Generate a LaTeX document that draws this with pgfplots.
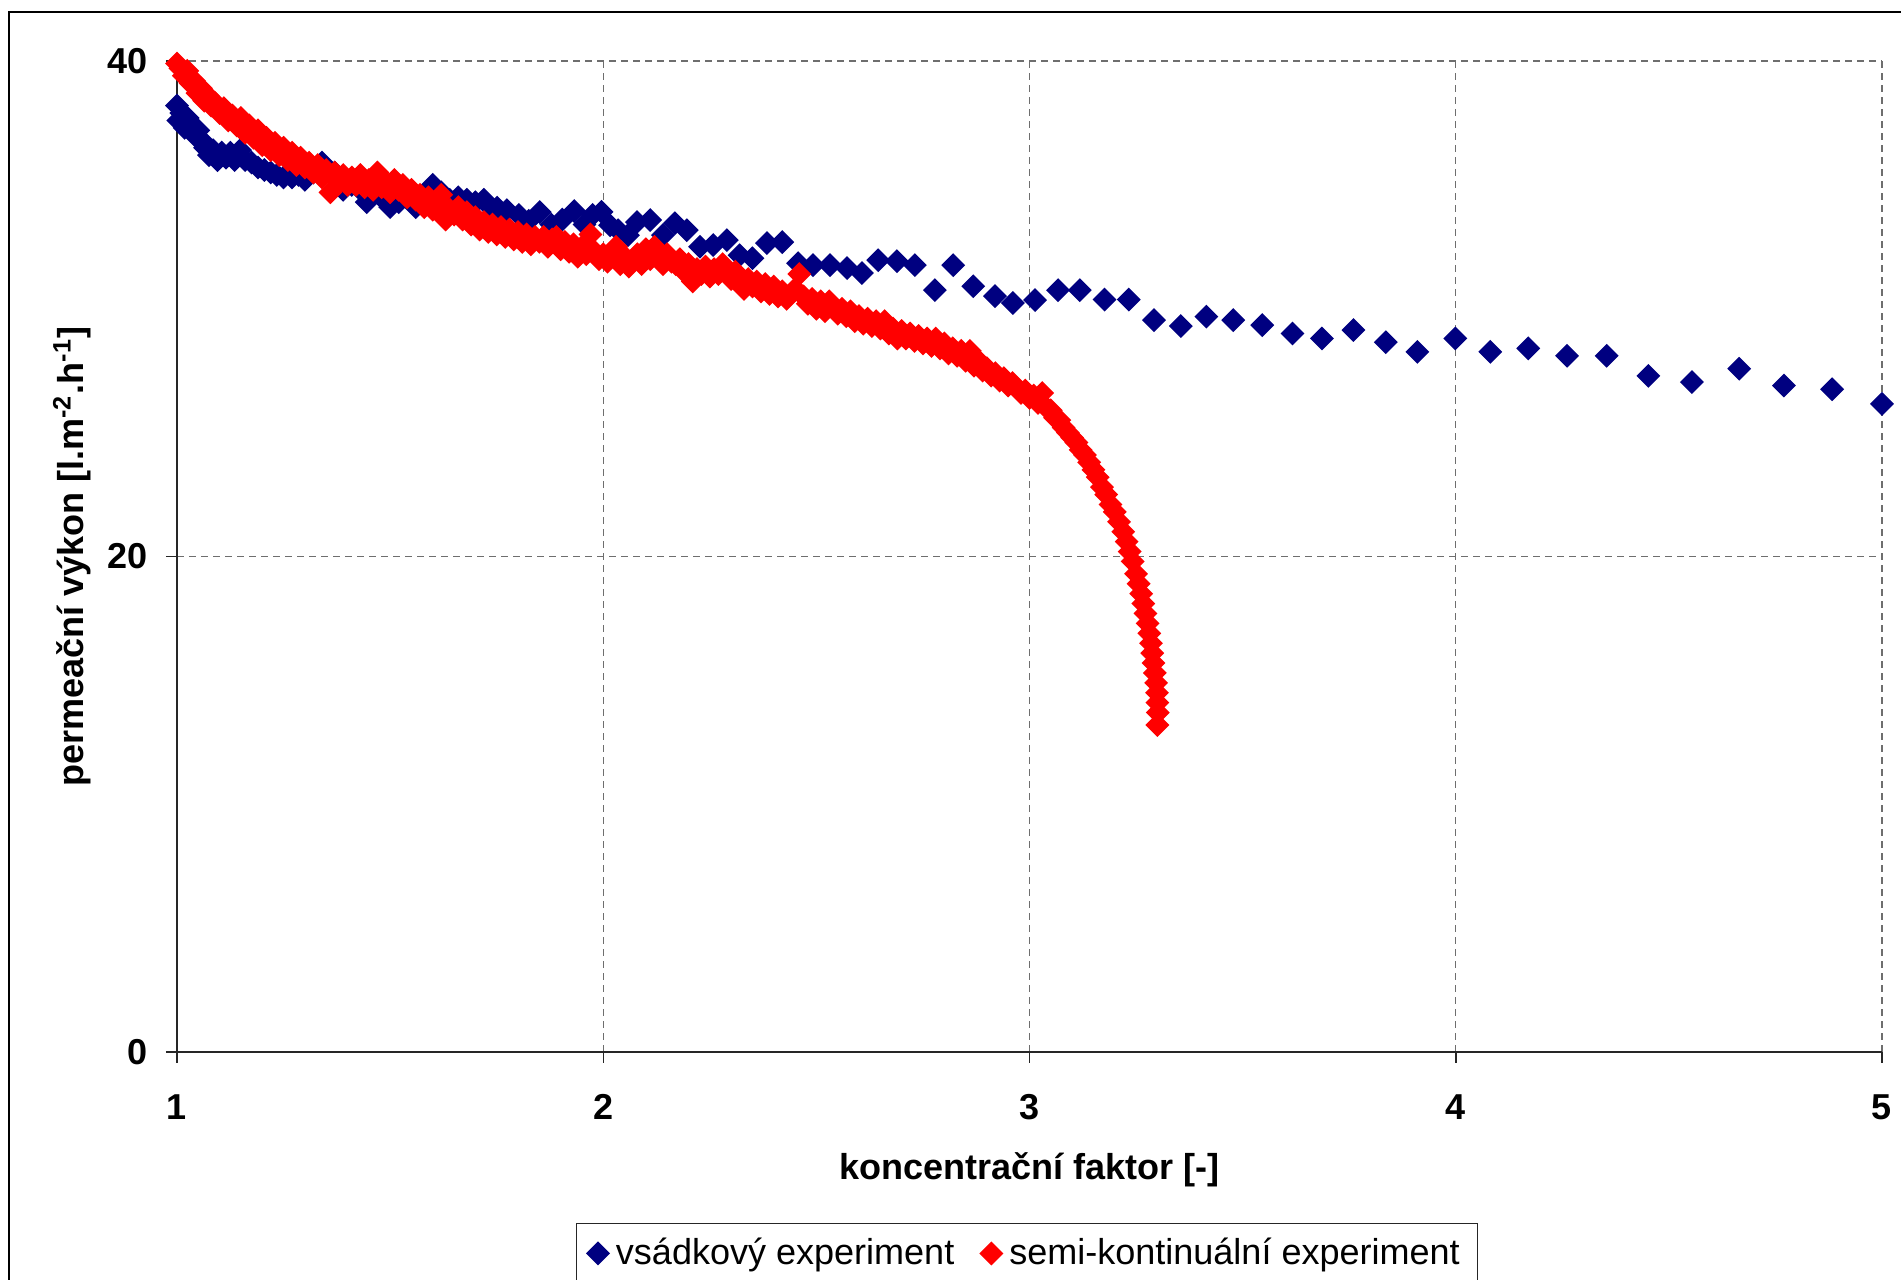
\documentclass[border=0pt]{standalone}
\usepackage{fontspec}
\setmainfont{Liberation Sans}
\usepackage{pgfplots}
\pgfplotsset{compat=1.18}
\definecolor{navyblue}{RGB}{0,0,128}
\definecolor{purered}{RGB}{255,0,0}
\definecolor{gridgray}{RGB}{110,110,110}
\newcommand{\chartfont}{\fontsize{10.25pt}{12pt}\selectfont}
\begin{document}
\begin{tikzpicture}
\useasboundingbox (0cm,0cm) rectangle (19.01cm,-12.80cm);
\begin{scope}
\clip (0cm,0cm) rectangle (19.01cm,-12.80cm);
\draw[line width=0.02cm, black] (0.09cm,-0.12cm) rectangle (19.6cm,-13.4cm);
\end{scope}
\begin{axis}[
  at={(1.77cm,-10.52cm)}, anchor=south west,
  scale only axis, width=17.05cm, height=9.91cm,
  xmin=1, xmax=5, ymin=0, ymax=40,
  xtick={1,2,3,4,5}, ytick={0,20,40},
  axis lines=left,
  axis line style={-, black!85, line width=0.015cm},
  tick align=outside,
  major tick length=0.11cm,
  tick style={black!85, line width=0.015cm},
  grid=major,
  major grid style={gridgray, line width=0.012cm, dash pattern=on 0.07cm off 0.05cm},
  clip=false,
  /pgf/number format/assume math mode=true,
  ticklabel style={font=\chartfont\bfseries},
  xticklabel style={anchor=center, yshift=-0.44cm},
  yticklabel style={anchor=east, xshift=-0.06cm},
  xlabel={koncentrační faktor [-]},
  ylabel={permeační výkon [l.m\textsuperscript{-2}.h\textsuperscript{-1}]},
  every axis x label/.style={at={(axis description cs:0.5,0)}, anchor=center, yshift=-1.18cm, font=\chartfont\bfseries},
  every axis y label/.style={at={(axis description cs:0,0.5)}, anchor=center, rotate=90, yshift=1.05cm, font=\chartfont\bfseries},
  legend columns=2,
  legend style={at={(axis description cs:0.4985,-0.2033)}, anchor=center,
    draw=black!85, line width=0.015cm, font=\chartfont,
    /tikz/every even column/.append style={column sep=0.19cm}},
  legend image code/.code={\draw[mark repeat=2,mark phase=2,#1] plot coordinates {(0cm,0cm)(0.14cm,0cm)(0.34cm,0cm)};},
]
\addplot[only marks, mark=square*, mark size=2.2pt, mark options={rotate=45, fill=navyblue, draw=navyblue}] coordinates {
(1.000,38.2) (1.003,37.6) (1.010,37.9) (1.018,37.3) (1.025,37.7) (1.033,37.4)
(1.042,37.0) (1.050,37.2) (1.058,36.8) (1.066,36.5) (1.075,36.2) (1.085,36.4)
(1.095,36.0) (1.105,36.3) (1.115,36.1) (1.125,36.3) (1.135,36.0) (1.148,36.4)
(1.160,36.0) (1.175,35.9) (1.190,35.7) (1.205,35.6) (1.220,35.5) (1.234,35.4)
(1.250,35.3) (1.270,35.3) (1.285,35.4) (1.300,35.2) (1.320,35.5) (1.340,35.9)
(1.355,35.6) (1.370,35.5) (1.390,34.8) (1.410,35.0) (1.425,34.9) (1.445,34.3)
(1.460,34.6) (1.480,34.5) (1.500,34.1) (1.520,34.3) (1.540,34.6) (1.560,34.1)
(1.580,34.5) (1.600,35.0) (1.620,34.7) (1.640,34.4) (1.660,34.5) (1.680,34.4)
(1.700,34.3) (1.720,34.4) (1.735,34.1) (1.751,34.08) (1.774,33.98) (1.802,33.79)
(1.825,33.55) (1.851,33.9) (1.878,33.4) (1.904,33.6) (1.932,33.94) (1.956,33.4)
(1.975,33.79) (1.996,33.91) (2.016,33.37) (2.035,33.17) (2.058,32.97) (2.079,33.5)
(2.110,33.58) (2.140,32.97) (2.168,33.45) (2.196,33.17) (2.227,32.5) (2.258,32.57)
(2.290,32.77) (2.320,32.16) (2.350,32.04) (2.384,32.65) (2.420,32.69) (2.457,31.84)
(2.492,31.76) (2.532,31.76) (2.572,31.64) (2.607,31.44) (2.645,31.96) (2.689,31.92)
(2.731,31.76) (2.778,30.75) (2.821,31.76) (2.868,30.91) (2.919,30.51) (2.961,30.23)
(3.013,30.35) (3.067,30.75) (3.118,30.75) (3.176,30.37) (3.233,30.37) (3.292,29.54)
(3.355,29.3) (3.415,29.68) (3.478,29.54) (3.546,29.34) (3.617,29.0) (3.686,28.8)
(3.760,29.14) (3.836,28.65) (3.910,28.26) (3.999,28.8) (4.081,28.26) (4.170,28.4)
(4.261,28.1) (4.354,28.1) (4.452,27.29) (4.554,27.04) (4.665,27.58) (4.770,26.9)
(4.883,26.75) (5.000,26.16)
};
\addlegendentry{vsádkový experiment}
\addplot[only marks, mark=square*, mark size=2.2pt, mark options={rotate=45, fill=purered, draw=purered}] coordinates {
(1.000,39.9) (1.008,39.7) (1.016,39.4) (1.024,39.6) (1.032,39.1) (1.040,39.2)
(1.048,38.7) (1.056,38.9) (1.064,38.4) (1.072,38.6) (1.080,38.2) (1.090,38.3)
(1.100,37.9) (1.110,38.1) (1.120,37.6) (1.130,37.8) (1.140,37.4) (1.150,37.7)
(1.160,37.1) (1.170,37.4) (1.180,36.9) (1.190,37.2) (1.200,36.6) (1.210,36.9)
(1.220,36.4) (1.230,36.7) (1.240,36.2) (1.250,36.5) (1.260,36.0) (1.270,36.3)
(1.280,35.8) (1.290,36.1) (1.300,35.7) (1.310,35.9) (1.320,35.5) (1.330,35.8)
(1.340,35.3) (1.350,35.6) (1.360,34.7) (1.370,35.5) (1.380,35.1) (1.390,35.4)
(1.400,35.0) (1.410,35.3) (1.420,35.0) (1.430,35.4) (1.440,34.9) (1.450,35.2)
(1.460,34.8) (1.470,35.5) (1.480,34.9) (1.490,35.1) (1.500,34.7) (1.510,35.2)
(1.520,34.8) (1.530,35.0) (1.540,34.5) (1.550,34.8) (1.560,34.4) (1.570,34.6)
(1.580,34.1) (1.590,34.5) (1.600,34.0) (1.610,34.4) (1.620,34.6) (1.630,33.6)
(1.640,34.0) (1.650,33.8) (1.660,34.1) (1.670,33.6) (1.680,33.9) (1.690,33.4)
(1.700,33.7) (1.710,33.2) (1.720,33.5) (1.730,33.1) (1.740,33.4) (1.750,33.0)
(1.760,33.3) (1.770,32.9) (1.780,33.2) (1.790,32.8) (1.800,33.1) (1.810,32.7)
(1.820,33.0) (1.830,32.6) (1.840,32.9) (1.850,32.7) (1.860,32.9) (1.870,32.5)
(1.880,32.8) (1.890,32.9) (1.900,32.4) (1.910,32.7) (1.920,32.3) (1.930,32.6)
(1.940,32.1) (1.950,32.5) (1.960,32.2) (1.970,33.0) (1.980,32.3) (1.990,32.0)
(2.000,32.2) (2.010,31.9) (2.020,32.2) (2.030,32.5) (2.040,31.8) (2.050,32.1)
(2.060,31.7) (2.070,31.9) (2.080,32.2) (2.090,31.8) (2.100,32.4) (2.110,32.0)
(2.120,32.5) (2.130,32.1) (2.140,31.8) (2.150,32.2) (2.160,31.9) (2.170,31.8)
(2.180,32.0) (2.190,31.5) (2.200,31.8) (2.210,31.1) (2.220,31.6) (2.230,31.4)
(2.240,31.7) (2.250,31.3) (2.260,31.6) (2.270,31.4) (2.280,31.8) (2.290,31.5)
(2.300,31.2) (2.310,31.5) (2.320,31.0) (2.330,30.8) (2.340,31.2) (2.350,30.9)
(2.360,31.1) (2.370,30.7) (2.380,31.0) (2.390,30.6) (2.400,30.9) (2.410,30.5)
(2.420,30.7) (2.430,30.4) (2.440,30.6) (2.450,30.8) (2.460,31.4) (2.470,30.5)
(2.480,30.2) (2.490,30.4) (2.500,30.0) (2.510,30.3) (2.520,29.9) (2.530,30.3)
(2.540,30.1) (2.550,29.8) (2.560,30.0) (2.570,29.7) (2.580,29.9) (2.590,29.5)
(2.600,29.7) (2.610,29.4) (2.620,29.6) (2.630,29.3) (2.640,29.5) (2.650,29.2)
(2.660,29.5) (2.670,29.0) (2.680,29.2) (2.690,28.8) (2.700,29.1) (2.710,28.8)
(2.720,29.0) (2.730,28.7) (2.740,28.9) (2.750,28.6) (2.760,28.8) (2.770,28.5)
(2.780,28.8) (2.790,28.4) (2.800,28.6) (2.810,28.2) (2.820,28.4) (2.830,28.1)
(2.840,28.3) (2.850,27.9) (2.860,28.3) (2.870,27.7) (2.880,27.9) (2.890,27.5)
(2.900,27.6) (2.910,27.3) (2.920,27.4) (2.930,27.1) (2.940,27.2) (2.950,26.9)
(2.960,27.0) (2.970,26.8) (2.980,26.6) (2.990,26.7) (3.000,26.4) (3.010,26.5)
(3.020,26.2) (3.030,26.6) (3.040,26.0) (3.050,25.9) (3.060,25.6) (3.070,25.5)
(3.080,25.2) (3.090,25.0) (3.100,24.8) (3.110,24.6) (3.120,24.3) (3.130,24.1)
(3.140,23.8) (3.150,23.5) (3.160,23.2) (3.170,22.8) (3.180,22.5) (3.190,22.1)
(3.200,21.8) (3.210,21.4) (3.220,21.0) (3.228,20.6) (3.235,20.2) (3.242,19.8)
(3.250,19.3) (3.256,18.9) (3.262,18.5) (3.267,18.1) (3.272,17.7) (3.277,17.3)
(3.281,16.9) (3.285,16.5) (3.288,16.1) (3.291,15.7) (3.294,15.3) (3.297,14.9)
(3.299,14.5) (3.300,14.1) (3.301,13.7) (3.300,13.2)
};
\addlegendentry{semi-kontinuální experiment}
\end{axis}
\end{tikzpicture}
\end{document}
